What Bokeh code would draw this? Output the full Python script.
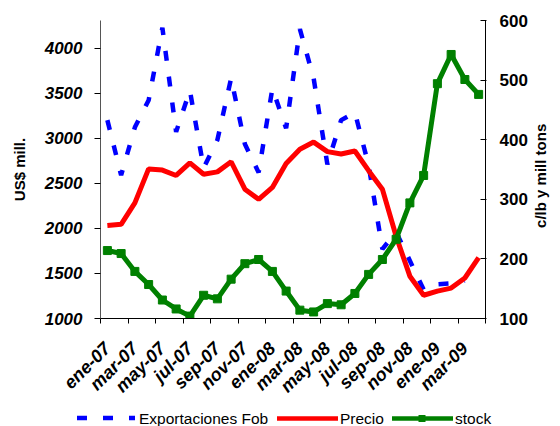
import math
from bokeh.plotting import figure
from bokeh.layouts import column
from bokeh.models import Range1d, LinearAxis, FixedTicker, Div
from bokeh.embed import file_html
from bokeh.resources import INLINE

months = ["ene-07", "feb-07", "mar-07", "abr-07", "may-07", "jun-07", "jul-07",
          "ago-07", "sep-07", "oct-07", "nov-07", "dic-07", "ene-08", "feb-08",
          "mar-08", "abr-08", "may-08", "jun-08", "jul-08", "ago-08", "sep-08",
          "oct-08", "nov-08", "dic-08", "ene-09", "feb-09", "mar-09", "abr-09"]
exportaciones = [3200, 2590, 3120, 3420, 4225, 3070, 3530, 2670, 2980, 3665,
                 2935, 2620, 3550, 3110, 4210, 3665, 2710, 3200, 3285, 2700,
                 1770, 1960, 1640, 1320, 1380, 1390, 1420, float("nan")]
precio = [256, 258, 294, 351, 349, 340, 361, 342, 346, 363, 317, 300, 320, 360,
          384, 396, 380, 376, 381, 348, 317, 238, 171, 139, 146, 151, 168, 202]
stock = [214, 209, 179, 157, 131, 116, 104, 139, 133, 166, 192, 199, 179, 146,
         114, 111, 125, 123, 142, 174, 199, 233, 294, 340, 494, 543, 501, 476]
left_ticks = [1000, 1500, 2000, 2500, 3000, 3500, 4000]
right_ticks = [100, 200, 300, 400, 500, 600]
series_names = ["Exportaciones Fob", "Precio", "stock"]
left_title = "US$ mill."
right_title = "c/lb y mill tons"

FONT = "Liberation Sans"
BLUE, RED, GREEN = "#0000FF", "#FF0000", "#008000"
x = list(range(len(months)))

p = figure(width=560, height=406, output_backend="svg", toolbar_location=None,
           x_range=Range1d(-0.5, len(months) - 0.5), y_range=Range1d(1000, 4305),
           min_border_left=100, min_border_right=71, min_border_top=20,
           min_border_bottom=87)
p.outline_line_color = None
p.xgrid.grid_line_color = None
p.ygrid.grid_line_color = None
p.background_fill_color = "white"
p.border_fill_color = "white"
p.extra_y_ranges = {"right": Range1d(100, 600)}

# x axis
xa = p.xaxis[0]
xa.ticker = FixedTicker(ticks=x[::2],
                        minor_ticks=[i - 0.5 for i in range(0, len(months) + 1, 2)])
xa.major_label_overrides = {i: months[i] for i in x[::2]}
xa.major_label_orientation = math.pi / 4
xa.major_tick_line_color = None
xa.major_tick_in = 0
xa.major_tick_out = 0
xa.minor_tick_line_color = "black"
xa.minor_tick_in = 0
xa.minor_tick_out = 5
xa.axis_line_color = "black"
xa.major_label_standoff = 22
xa.major_label_text_font = FONT
xa.major_label_text_font_size = "18px"
xa.major_label_text_font_style = "bold italic"
xa.major_label_text_color = "black"

# left axis
ya = p.yaxis[0]
ya.ticker = FixedTicker(ticks=left_ticks)
ya.minor_tick_line_color = None
ya.major_tick_in = 0
ya.major_tick_out = 6
ya.major_tick_line_color = "black"
ya.axis_line_color = "#555555"
ya.major_label_standoff = 12
ya.major_label_text_font = FONT
ya.major_label_text_font_size = "17px"
ya.major_label_text_font_style = "bold italic"
ya.major_label_text_color = "black"
ya.axis_label = left_title
ya.axis_label_text_font = FONT
ya.axis_label_text_font_size = "15px"
ya.axis_label_text_font_style = "bold"
ya.axis_label_text_color = "black"
ya.axis_label_standoff = 14

# right axis (ticks and numbers)
ra = LinearAxis(y_range_name="right", ticker=FixedTicker(ticks=right_ticks))
ra.minor_tick_line_color = None
ra.major_tick_in = 5
ra.major_tick_out = 1
ra.major_tick_line_color = "black"
ra.axis_line_color = "black"
ra.major_label_standoff = 13
ra.major_label_text_font = FONT
ra.major_label_text_font_size = "17px"
ra.major_label_text_font_style = "bold"
ra.major_label_text_color = "black"
p.add_layout(ra, "right")

# right axis title, reading bottom to top (drawn as a rotated axis label)
title_start = 252  # where the rotated title begins, on the right scale
rt = LinearAxis(y_range_name="right", ticker=FixedTicker(ticks=[title_start]))
rt.axis_line_color = None
rt.major_tick_line_color = None
rt.minor_tick_line_color = None
rt.major_tick_in = 0
rt.major_tick_out = 0
rt.major_label_overrides = {title_start: right_title}
rt.major_label_orientation = math.pi / 2
rt.major_label_standoff = 10
rt.major_label_text_font = FONT
rt.major_label_text_font_size = "15px"
rt.major_label_text_font_style = "bold"
rt.major_label_text_color = "black"
p.add_layout(rt, "right")

# series
p.line(x, exportaciones, line_color=BLUE, line_width=4.5, line_dash="10 16")
p.line(x, precio, y_range_name="right", line_color=RED, line_width=5)
p.line(x, stock, y_range_name="right", line_color=GREEN, line_width=5)
p.scatter(x, stock, y_range_name="right", marker="square", size=8,
          fill_color=GREEN, line_color=GREEN)

# legend strip under the chart
font_css = f"font-family:'{FONT}';font-size:15.5px;fill:#000"
legend_svg = (
    '<svg xmlns="http://www.w3.org/2000/svg" width="560" height="20" '
    'style="display:block">'
    f'<line x1="77" y1="12" x2="135" y2="12" stroke="{BLUE}" '
    'stroke-width="4.5" stroke-dasharray="10 16"/>'
    f'<text x="139" y="17.5" style="{font_css}">{series_names[0]}</text>'
    f'<line x1="277" y1="12.5" x2="338" y2="12.5" stroke="{RED}" '
    'stroke-width="4.5"/>'
    f'<text x="340" y="17.5" style="{font_css}">{series_names[1]}</text>'
    f'<line x1="392" y1="12.5" x2="453" y2="12.5" stroke="{GREEN}" '
    'stroke-width="4.5"/>'
    f'<rect x="418.5" y="9" width="7" height="7" fill="{GREEN}"/>'
    f'<text x="455" y="17.5" style="{font_css}">{series_names[2]}</text>'
    '</svg>'
)
legend_div = Div(text=legend_svg, width=560, height=20,
                 styles={"margin": "0", "padding": "0", "overflow": "hidden"})

layout = column(p, legend_div, spacing=0)
open("out.html", "w").write(file_html(layout, INLINE))
